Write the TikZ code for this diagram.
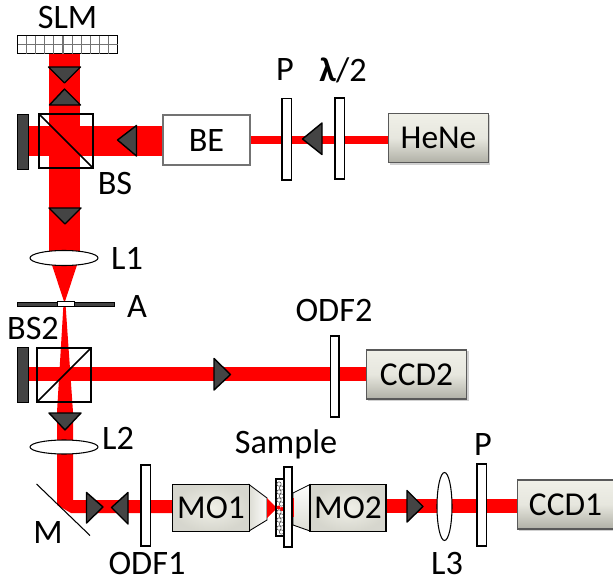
\documentclass[tikz,border=0pt]{standalone}
\usepackage{fontspec}
\setmainfont{Carlito}
\definecolor{beamred}{RGB}{255,0,0}
\definecolor{darkpart}{RGB}{68,68,68}
\definecolor{boxlight}{RGB}{240,240,232}
\definecolor{boxdark}{RGB}{176,176,166}
\tikzset{
  beam/.style={fill=beamred, draw=none},
  plate/.style={draw=black, fill=white, line width=0.8pt},
  prism/.style={draw=black, fill=darkpart, line width=0.8pt, line join=round},
  cube/.style={draw=black, line width=0.9pt},
  stopper/.style={draw=black, fill=darkpart, line width=0.5pt},
  lensbody/.style={draw=black, fill=white, line width=0.6pt},
  label/.style={inner sep=0pt, font=\fontsize{19.5}{21}\selectfont},
  shadedbox/.style={draw=black!65, line width=0.9pt, top color=boxlight, bottom color=boxdark, middle color=boxlight!85!boxdark, font=\fontsize{19}{21}\selectfont, inner sep=0pt},
  mobox/.style={draw=black, line width=0.7pt, inner color=boxlight, outer color=boxdark!40!boxlight, font=\fontsize{19}{21}\selectfont, inner sep=0pt},
  taper/.style={draw=black, line width=0.5pt, left color=boxlight!70!boxdark, right color=white!90!boxlight},
  shadowbox/.style={fill=black!18, draw=none},
}
\begin{document}
\begin{tikzpicture}[x=0.02cm, y=-0.02cm]
\useasboundingbox (0, 0) rectangle (613, 578);
% beams
\fill[beam] (49, 53) rectangle (80, 255);
\fill[beam] (28, 126) rectangle (163, 156);
\fill[beam] (250, 135.5) rectangle (392, 143.5);
\fill[beam] (51, 262) -- (78, 262) -- (64.5, 303) -- cycle;
\fill[beam] (63.5, 304) -- (65.5, 304) -- (73, 412) -- (57, 412) -- cycle;
\fill[beam] (28, 367) rectangle (368, 381);
\fill[beam] (57, 412) -- (73, 412) -- (73, 500) -- (175, 500) -- (175, 513) -- (71, 513) -- (57, 505) -- cycle;
\fill[beam] (384, 499) rectangle (519, 513);
% SLM
\draw[black, line width=0.6pt, fill=white] (17.5, 35.5) rectangle (117.5, 53.5);
\foreach \gridx in {1,...,10} {
  \draw[black!55, line width=0.6pt] (17.5+9.1*\gridx, 35.5) -- (17.5+9.1*\gridx, 53.5);
}
\draw[black!55, line width=0.6pt] (17.5, 44.5) -- (117.5, 44.5);
\node[label] (slmlabel) at (67.5, 18) {SLM};
% first beam splitter
\draw[cube] (39, 114) rectangle (93, 168);
\draw[cube] (39, 114) -- (93, 168);
\filldraw[stopper] (17.5, 114) rectangle (28, 169);
\node[label] (bslabel) at (115, 184) {BS};
% second beam splitter
\draw[cube] (37, 348) rectangle (91, 402);
\draw[cube] (37, 402) -- (91, 348);
\filldraw[stopper] (17.5, 347) rectangle (28, 402);
\node[label] (bstwolabel) at (33, 329) {BS2};
% prisms
\filldraw[prism] (48.5, 67) -- (80.5, 67) -- (64.5, 83) -- cycle;
\filldraw[prism] (49.5, 105) -- (80.5, 105) -- (64.5, 89) -- cycle;
\filldraw[prism] (136.5, 125.5) -- (136.5, 156) -- (117.5, 140) -- cycle;
\filldraw[prism] (49, 208) -- (81, 208) -- (65, 224) -- cycle;
\filldraw[prism] (322, 123) -- (322, 154.5) -- (302.5, 139) -- cycle;
\filldraw[prism] (214, 358.5) -- (214, 390) -- (230.5, 374.5) -- cycle;
\filldraw[prism] (49, 413) -- (81, 413) -- (65, 430) -- cycle;
\filldraw[prism] (86.5, 492.5) -- (86.5, 523) -- (103, 507) -- cycle;
\filldraw[prism] (128, 492.5) -- (128, 524) -- (111.5, 507.5) -- cycle;
\filldraw[prism] (407, 490.5) -- (407, 522) -- (423, 506.5) -- cycle;
% lenses and aperture
\draw[lensbody] (64, 258) ellipse (34 and 7.5);
\node[label] (lonelabel) at (127, 258) {L1};
\filldraw[stopper] (17.5, 302.5) rectangle (114.5, 306);
\draw[black, fill=white, line width=0.5pt] (57, 301.5) rectangle (74, 306);
\node[label] (alabel) at (137, 307) {A};
\draw[lensbody] (64, 447) ellipse (34 and 7);
\node[label] (ltwolabel) at (118, 438) {L2};
\draw[lensbody] (444.5, 506.5) ellipse (7.5 and 34);
\node[label] (lthreelabel) at (447, 563.5) {L3};
% mirror
\draw[black, line width=0.6pt] (36.5, 484) -- (90, 535.5);
\node[label] (mlabel) at (48, 533) {M};
% plates
\filldraw[plate] (282, 98.5) rectangle (291.5, 180);
\node[label] (ptoplabel) at (285, 70) {P};
\filldraw[plate] (335, 98) rectangle (344.5, 179);
\node[label] (halflabel) at (343, 70) {\textbf{λ}/2};
\filldraw[plate] (330.5, 336) rectangle (339, 417);
\node[label] (odftwolabel) at (334, 311) {ODF2};
\filldraw[plate] (141, 465) rectangle (150.5, 546);
\node[label] (odfonelabel) at (147, 563.5) {ODF1};
\filldraw[plate] (477, 464) rectangle (486.5, 546);
\node[label] (pbottomlabel) at (483, 445) {P};
% boxes
\draw[line width=0.9pt, draw=black!55, fill=white] (163, 115) rectangle (250, 165);
\node[label] (be) at (206.5, 141) {BE};
\fill[shadowbox] (390, 115) rectangle (490, 165);
\node[shadedbox, minimum width=0.02cm*100, minimum height=0.02cm*49] (hene) at (438.5, 138) {HeNe};
\fill[shadowbox] (368, 351) rectangle (469, 401);
\node[shadedbox, minimum width=0.02cm*100, minimum height=0.02cm*49] (ccdtwo) at (416.5, 374.5) {CCD2};
\fill[shadowbox] (519, 482) rectangle (613, 531);
\node[shadedbox, minimum width=0.02cm*96, minimum height=0.02cm*49] (ccdone) at (565.5, 504.5) {CCD1};
% objectives and sample
\draw[taper] (249, 484.5) -- (267, 498) -- (267, 520) -- (249, 531) -- cycle;
\node[mobox, minimum width=0.02cm*77, minimum height=0.02cm*46.5] (moone) at (211, 508) {MO1};
\draw[taper, shading angle=180] (310, 484.5) -- (293, 493) -- (293, 525) -- (310, 531) -- cycle;
\node[mobox, minimum width=0.02cm*76, minimum height=0.02cm*46.5] (motwo) at (348, 508) {MO2};
\fill[beam] (267, 498) -- (267, 518) -- (277, 508) -- cycle;
\fill[beam] (292, 498) rectangle (294, 517);
\draw[black, fill=white, line width=0.6pt] (276, 479) rectangle (284, 536);
\foreach \sx/\sy in {279/484, 281.5/488, 279/492, 281.5/496, 279/500, 281.5/504, 279/512, 281.5/516, 279/520, 281.5/524, 279/528, 281.5/532} {
  \draw[black!70, line width=0.3pt] (\sx, \sy) circle (2.2);
}
\fill[beamred] (278.5, 507.5) circle (2);
\fill[beamred] (282, 509) circle (2);
\filldraw[plate] (284, 467) rectangle (292, 547);
\node[label] (samplelabel) at (286, 444) {Sample};
\end{tikzpicture}
\end{document}
